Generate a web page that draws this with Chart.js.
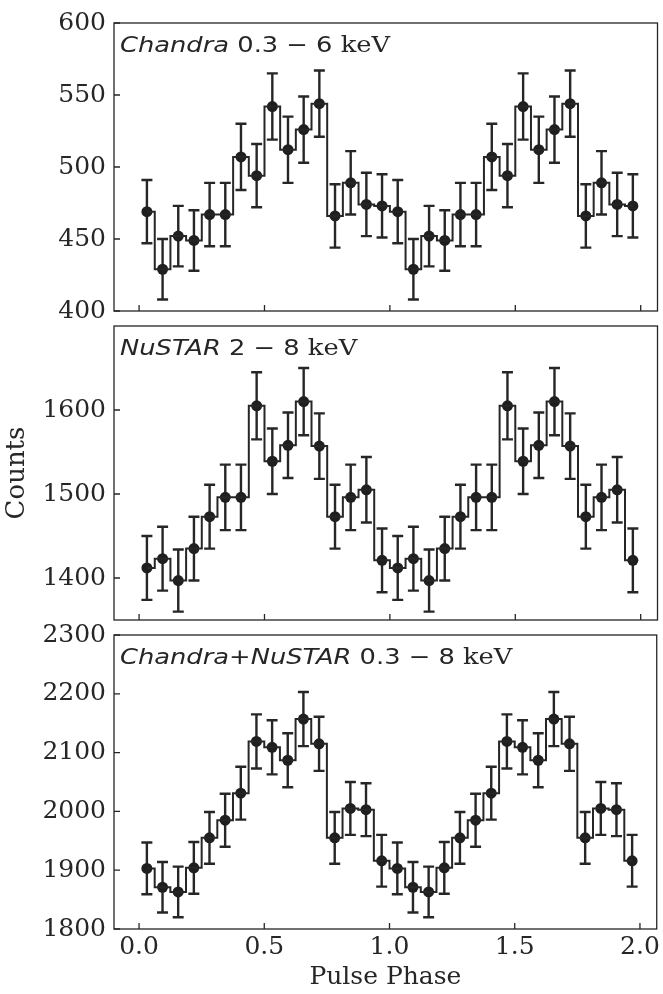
<!DOCTYPE html>
<html>
<head>
<meta charset="utf-8">
<script src="https://cdn.jsdelivr.net/npm/chart.js@4"></script>
<style>
  body { margin: 0; background: #fff; }
  #wrap { position: relative; width: 663px; height: 994px; }
  canvas { position: absolute; left: 0; top: 0; }
</style>
</head>
<body>
<div id="wrap">
  <canvas id="p1" width="663" height="994"></canvas>
  <canvas id="p2" width="663" height="994"></canvas>
  <canvas id="p3" width="663" height="994"></canvas>
</div>
<script>
// bin centres, two pulse cycles of 16 bins
const phase = [0.03125, 0.09375, 0.15625, 0.21875, 0.28125, 0.34375, 0.40625, 0.46875,
  0.53125, 0.59375, 0.65625, 0.71875, 0.78125, 0.84375, 0.90625, 0.96875,
  1.03125, 1.09375, 1.15625, 1.21875, 1.28125, 1.34375, 1.40625, 1.46875,
  1.53125, 1.59375, 1.65625, 1.71875, 1.78125, 1.84375, 1.90625, 1.96875];

// one cycle of counts; the plot shows the cycle twice
const chandraCounts = [469, 429, 452, 449, 467, 467, 507, 494, 542, 512, 526, 544, 466, 489, 474, 473];
const chandraErr = [22, 21, 21, 21, 22, 22, 23, 22, 23, 23, 23, 23, 22, 22, 22, 22];
const nustarCounts = [1412, 1423, 1397, 1435, 1473, 1496, 1496, 1605, 1539, 1558, 1610, 1557, 1473, 1496, 1505, 1421];
const nustarErr = [38, 38, 37, 38, 38, 39, 39, 40, 39, 39, 40, 39, 38, 39, 39, 38];
const combCounts = [1903, 1871, 1863, 1904, 1955, 1985, 2031, 2119, 2109, 2087, 2157, 2115, 1955, 2005, 2003, 1916];
const combErr = [44, 43, 43, 44, 44, 45, 45, 46, 46, 46, 46, 46, 44, 45, 45, 44];

const xTicks = [0, 0.5, 1.0, 1.5, 2.0];
const chandraTicks = [400, 450, 500, 550, 600];
const nustarTicks = [1400, 1500, 1600];
const combTicks = [1800, 1900, 2000, 2100, 2200, 2300];

const ink = '#262626';
const tickFont = { family: '"DejaVu Serif"', size: 25 };

function makePanel(id, counts, errs, yMin, yMax, yTicks, titleParts, top, bottom, last, yTitle) {
  const yy = counts.concat(counts);
  const ee = errs.concat(errs);
  const pts = phase.map(function(p, i) { return { x: p, y: yy[i] }; });

  const extras = {
    id: 'extras',
    beforeDatasetsDraw: function(chart) {
      const ctx = chart.ctx, xs = chart.scales.x, ys = chart.scales.y;
      ctx.save();
      ctx.strokeStyle = ink;
      ctx.lineWidth = 2.4;
      phase.forEach(function(p, i) {
        const x = xs.getPixelForValue(p);
        const y0 = ys.getPixelForValue(yy[i] - ee[i]);
        const y1 = ys.getPixelForValue(yy[i] + ee[i]);
        ctx.beginPath();
        ctx.moveTo(x, y0); ctx.lineTo(x, y1);
        ctx.moveTo(x - 5.5, y0); ctx.lineTo(x + 5.5, y0);
        ctx.moveTo(x - 5.5, y1); ctx.lineTo(x + 5.5, y1);
        ctx.stroke();
      });
      ctx.restore();
    },
    afterDraw: function(chart) {
      const ctx = chart.ctx, a = chart.chartArea, xs = chart.scales.x, ys = chart.scales.y;
      ctx.save();
      ctx.strokeStyle = ink;
      ctx.lineWidth = 1.3;
      ctx.strokeRect(a.left, a.top, a.right - a.left, a.bottom - a.top);
      ctx.beginPath();
      xTicks.forEach(function(v) {
        const x = xs.getPixelForValue(v);
        ctx.moveTo(x, a.bottom); ctx.lineTo(x, a.bottom - 6);
      });
      yTicks.forEach(function(v) {
        const y = ys.getPixelForValue(v);
        ctx.moveTo(a.left, y); ctx.lineTo(a.left + 6, y);
      });
      ctx.stroke();
      // panel label, slightly wide like the original figure
      ctx.translate(a.left + 6, a.top + 29);
      ctx.scale(1.17, 1);
      let x = 0;
      ctx.fillStyle = ink;
      ctx.textBaseline = 'alphabetic';
      titleParts.forEach(function(part) {
        ctx.font = part[1];
        ctx.fillText(part[0], x, 0);
        x += ctx.measureText(part[0]).width;
      });
      ctx.restore();
    }
  };

  return new Chart(document.getElementById(id), {
    type: 'line',
    data: {
      datasets: [{
        data: pts,
        stepped: 'middle',
        borderColor: ink,
        borderWidth: 2,
        pointRadius: 0,
        fill: false
      }, {
        data: pts,
        showLine: false,
        pointRadius: 5.5,
        pointBackgroundColor: '#1f1f1f',
        pointBorderColor: '#1f1f1f',
        pointBorderWidth: 0
      }]
    },
    options: {
      responsive: false,
      animation: false,
      devicePixelRatio: 1,
      events: [],
      layout: { padding: { top: top, bottom: last ? 0 : 994 - bottom, left: 0, right: 5 } },
      plugins: { legend: { display: false }, tooltip: { enabled: false } },
      scales: {
        x: {
          type: 'linear',
          min: -0.1,
          max: 2.067,
          grid: { display: false, drawTicks: false },
          border: { display: false },
          afterBuildTicks: function(scale) {
            scale.ticks = xTicks.map(function(v) { return { value: v }; });
          },
          afterFit: function(scale) { scale.height = last ? 994 - bottom : 0; },
          ticks: {
            display: last,
            padding: 3,
            color: ink,
            font: tickFont,
            maxRotation: 0,
            callback: function(v) { return Number(v).toFixed(1); }
          },
          title: {
            display: last,
            text: 'Pulse Phase',
            color: ink,
            font: { family: '"DejaVu Serif"', size: 25 },
            padding: { top: 0, bottom: 2 }
          }
        },
        y: {
          min: yMin,
          max: yMax,
          grid: { display: false, drawTicks: false },
          border: { display: false },
          afterBuildTicks: function(scale) {
            scale.ticks = yTicks.map(function(v) { return { value: v }; });
          },
          afterFit: function(scale) { scale.width = 114; },
          ticks: {
            padding: 8,
            color: ink,
            font: tickFont,
            callback: function(v) { return String(v); }
          },
          title: {
            display: !!yTitle,
            text: yTitle || '',
            color: ink,
            font: { family: '"DejaVu Serif"', size: 26 },
            padding: { top: 2, bottom: 0 }
          }
        }
      }
    },
    plugins: [extras]
  });
}

const sansIt = 'italic 22px "DejaVu Sans"';
const sans = '22px "DejaVu Sans"';
const serif = '22px "DejaVu Serif"';

makePanel('p1', chandraCounts, chandraErr, 400, 600, chandraTicks,
  [['Chandra', sansIt], [' 0.3 \u2212 6 ', sans], ['keV', serif]], 17, 311, false, null);
makePanel('p2', nustarCounts, nustarErr, 1350, 1700, nustarTicks,
  [['NuSTAR', sansIt], [' 2 \u2212 8 ', sans], ['keV', serif]], 326, 620, false, 'Counts');
makePanel('p3', combCounts, combErr, 1800, 2300, combTicks,
  [['Chandra+NuSTAR', sansIt], [' 0.3 \u2212 8 ', sans], ['keV', serif]], 635, 929, true, null);
</script>
</body>
</html>
